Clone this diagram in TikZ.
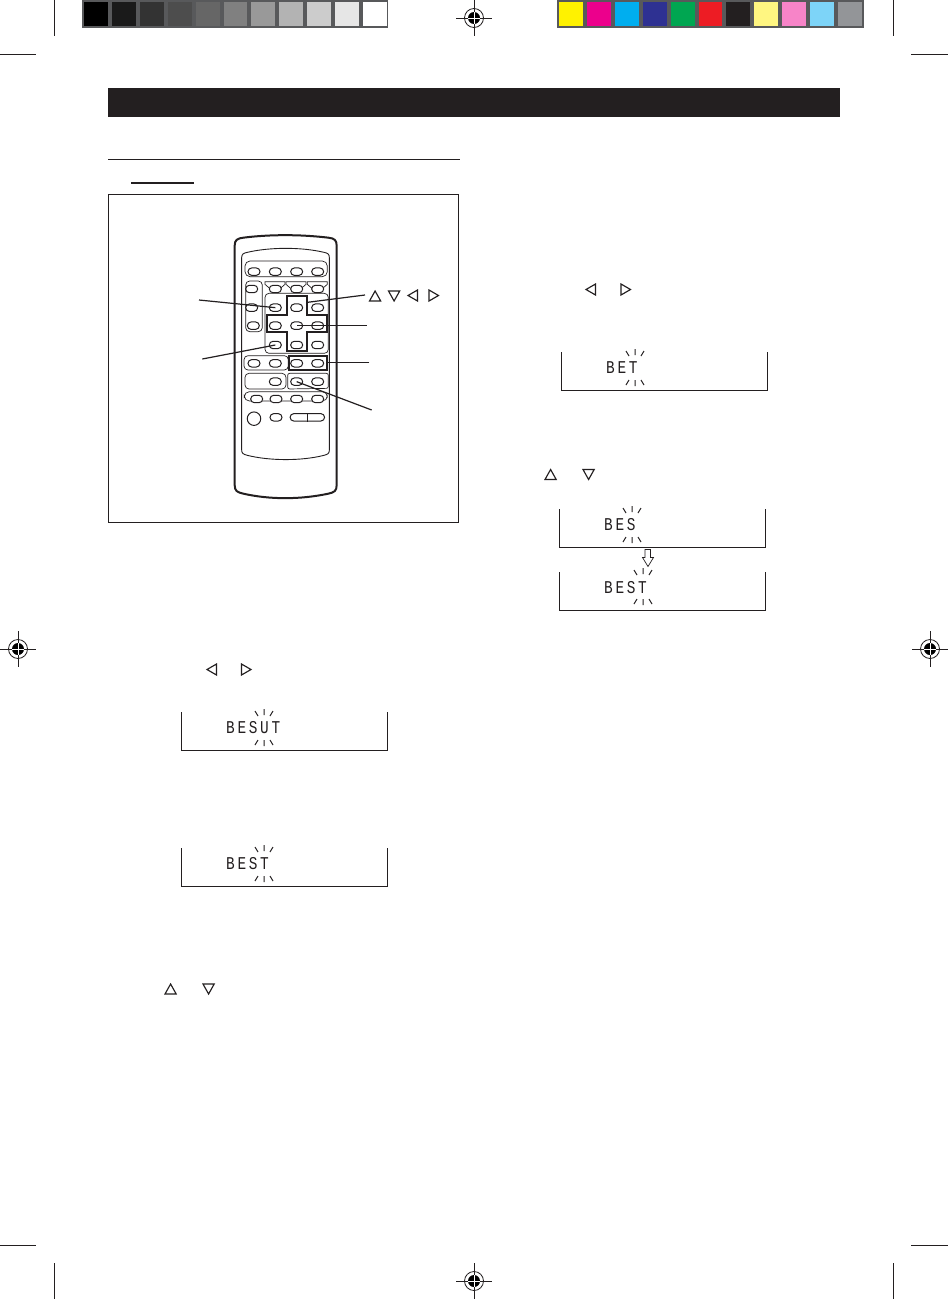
\documentclass[tikz,border=0pt]{standalone}
\usepackage{fontspec}
\usetikzlibrary{shapes.misc,shapes.geometric}
\newfontfamily\lcdfont{Liberation Mono}[FakeStretch=0.8,LetterSpace=15]
\definecolor{ink}{HTML}{231F20}
\definecolor{stripgrey}{HTML}{58595B}
\tikzset{
  ink line/.style={draw=ink,line width=1pt},
  thin part/.style={draw=ink,line width=0.7pt},
  crop/.style={draw=ink,line width=0.9pt},
  btn/.style={draw=ink,line width=1pt,fill=white,rounded rectangle,minimum width=12pt,minimum height=7.4pt,inner sep=0pt},
  thick frame/.style={draw=ink,line width=2pt},
  leader/.style={draw=ink,line width=1.2pt},
  lcd box/.style={draw=ink,line width=1pt},
  lcd/.style={inner sep=0pt,anchor=west,text=ink,font=\lcdfont\fontsize{18pt}{18pt}\selectfont},
  tri/.style={draw=ink,line width=1.15pt,line join=miter},
  rays/.style={draw=ink,line width=1pt},
  zoomed/.style={x=0.33333pt,y=-0.33333pt,shift={(190pt,-225pt)}}
}
\newcommand{\regmark}[2]{%
  \begin{scope}[shift={(#1,#2)}]
    \draw[crop,line width=0.7pt] (-18,0)--(18,0) (0,-18)--(0,18);
    \draw[ink line,line width=0.8pt] (0,0) circle[radius=9.5];
    \fill[black] (0,0) circle[radius=6];
    \draw[white,line width=0.7pt] (-6,0)--(6,0) (0,-6)--(0,6);
  \end{scope}}
\newcommand{\rayset}[2]{%
  \begin{scope}[shift={(#1,#2)}]
    \draw[rays] (-9,-1)--(-6,4) (0,-3)--(0,3) (9,-1)--(6,4)
      (-6,28)--(-9,33) (0,28)--(0,34) (6,28)--(9,33);
  \end{scope}}
\newcommand{\lcdpanel}[4]{% x, top
  \draw[lcd box] (#1,#2)--(#1,#2+38)--(#1+206,#2+38)--(#1+206,#2);}
\newcommand{\triU}[2]{\draw[tri] (#1,#2+10)--(#1+5.6,#2)--(#1+11.2,#2+10)--cycle;}
\newcommand{\triD}[2]{\draw[tri] (#1,#2)--(#1+5.6,#2+10)--(#1+11.2,#2)--cycle;}
\newcommand{\triL}[2]{\draw[tri] (#1+9.5,#2)--(#1,#2+5.5)--(#1+9.5,#2+11)--cycle;}
\newcommand{\triR}[2]{\draw[tri] (#1,#2)--(#1+9.5,#2+5.5)--(#1,#2+11)--cycle;}
\begin{document}
\begin{tikzpicture}[x=1pt,y=-1pt]
\useasboundingbox (0,0) rectangle (948,1299);
\fill[white] (0,0) rectangle (948,1299);
% colour strips
\fill[stripgrey] (82,0) rectangle (388,28);
\foreach \c [count=\i from 0] in {000000,1A1A1A,333333,4D4D4D,666666,808080,999999,B3B3B3,CCCCCC,E6E6E6,FFFFFF}
  {\definecolor{sw}{HTML}{\c}\fill[sw] ({84+27.9*\i},2) rectangle ({107.9+27.9*\i},26);}
\fill[stripgrey] (557,0) rectangle (864,28);
\foreach \c [count=\i from 0] in {FFF200,EC008C,00AEEF,2E3192,00A651,ED1C24,231F20,FFF681,F784C8,7DD4F8,939598}
  {\definecolor{sw}{HTML}{\c}\fill[sw] ({559+27.9*\i},2) rectangle ({582.9+27.9*\i},26);}
% crop marks
\draw[crop] (54.5,0)--(54.5,36) (0,54)--(36,54);
\draw[crop] (893.5,0)--(893.5,36) (911,54)--(948,54);
\draw[crop] (54.5,1263)--(54.5,1299) (0,1245)--(36,1245);
\draw[crop] (893.5,1263)--(893.5,1299) (911,1245)--(948,1245);
% registration marks
\regmark{474}{18}
\regmark{18}{649}
\regmark{930}{649}
\regmark{474}{1281}
% header
\fill[ink] (108,88) rectangle (840,117);
\draw[ink line] (108,159.3)--(460,159.3);
\draw[ink line,line width=1.3pt] (131,183)--(194,183);
\draw[ink line] (108.5,194.5) rectangle (458.5,522);
% remote control
\begin{scope}[zoomed]
  \draw[draw=ink,line width=2pt] (134,62) .. controls (134,45) and (142,40) .. (160,38)
     .. controls (240,28) and (330,28) .. (415,38) .. controls (433,40) and (440,45) .. (440,62)
     -- (440,780) .. controls (440,798) and (433,802) .. (415,806)
     .. controls (330,824) and (240,824) .. (160,806) .. controls (142,802) and (134,798) .. (134,780) -- cycle;
  \draw[thin part,line width=0.9pt] (155,98) .. controls (155,88) and (160,84) .. (172,82)
     .. controls (240,66) and (335,66) .. (402,82) .. controls (414,84) and (418,88) .. (418,98)
     -- (418,675) .. controls (418,685) and (414,688) .. (402,691)
     .. controls (335,708) and (240,708) .. (172,691) .. controls (160,688) and (155,685) .. (155,675) -- cycle;
  \draw[thin part,rounded corners=5pt] (165,108) rectangle (412,155);
  \draw[thin part,rounded corners=4pt] (167,168) rectangle (217,320);
  \draw[thin part,rounded corners=4pt] (225,205) rectangle (415,385);
  \draw[thin part,rounded corners=4pt] (162,392) rectangle (295,435);
  \draw[thin part,rounded corners=4pt] (165,445) rectangle (288,492);
  \draw[thin part,rounded corners=2pt] (293,492)--(293,445)--(415,445)--(415,490)--cycle;
  \draw[thin part,rounded corners=5pt] (163,500) rectangle (412,528);
  \foreach \x in {225,288,352}
    \draw[thin part] (\x+14,190)--(\x,178)--(\x,170)--(\x+60,170)--(\x+60,178)--(\x+46,190);
  % cross and frame
  \draw[thick frame] (290,212)--(350,212)--(350,270)--(410,270)--(410,322)--(350,322)--(350,378)--(290,378)--(290,322)--(230,322)--(230,270)--(290,270)--cycle;
  \draw[thick frame] (297,394) rectangle (410,435);
  % buttons
  \foreach \x/\n in {192/1,256/2,320/3,383/4} \node[btn] (ba\n) at (\x,140) {};
  \foreach \x/\n in {185/1,256/2,320/3,383/4} \node[btn] (bb\n) at (\x,192) {};
  \foreach \x/\n in {185/1,256/2,320/3,383/4} \node[btn] (bc\n) at (\x,248) {};
  \foreach \x/\n in {190/1,256/2,320/3,383/4} \node[btn] (bd\n) at (\x,302) {};
  \foreach \x/\n in {256/2,320/3,383/4} \node[btn] (be\n) at (\x,360) {};
  \foreach \x/\n in {192/1,256/2,320/3,383/4} \node[btn] (bf\n) at (\x,415) {};
  \foreach \x/\n in {256/2,320/3,383/4} \node[btn] (bg\n) at (\x,470) {};
  \foreach \x/\n in {200/1,258/2,320/3,383/4} \node[btn] (bh\n) at (\x,522) {};
  \node[btn] (bi2) at (258,577) {};
  \node[draw=ink,line width=1pt,circle,minimum size=13.5pt,inner sep=0pt,fill=white] (power) at (192,581) {};
  \node[btn,minimum width=34.5pt] (wide) at (352,577) {};
  \draw[thin part,line width=1pt] (wide.north)--(wide.south);
  % leaders
  \coordinate (l1) at (27,225);
  \coordinate (l2) at (37,402);
  \coordinate (l3) at (525,210);
  \coordinate (l4) at (530,302);
  \coordinate (l5) at (538,412);
  \coordinate (l6) at (545,555);
  \coordinate (cross top) at (352,232);
  \coordinate (frame edge) at (410,412);
  \draw[leader] (l1)--(bc2.center);
  \draw[leader] (l2)--(be2.center);
  \draw[leader] (l3)--(cross top);
  \draw[leader] (l4)--(bd3.center);
  \draw[leader] (l5)--(frame edge);
  \draw[leader] (l6)--(bg3.center);
\end{scope}
% remote's direction labels
\triU{369.5}{291}
\triD{388.5}{291}
\triL{408}{290}
\triR{429}{290}
% left column
\triL{207}{664}
\triR{241.5}{664}
\lcdpanel{181.5}{712}{}{}
\rayset{264}{712}
\node[lcd] (t1) at (226,727.5) {BESUT};
\lcdpanel{181.5}{848}{}{}
\rayset{264}{848}
\node[lcd] (t2) at (226,863.5) {BEST};
\triU{165}{984}
\triD{203}{984}
% right column
\triL{586}{284}
\triR{621}{284}
\lcdpanel{561.5}{352}{}{}
\rayset{635}{352}
\node[lcd] (t3) at (606,367.5) {BET};
\triU{545}{469.5}
\triD{583}{469.5}
\lcdpanel{559.5}{509}{}{}
\rayset{632}{509}
\node[lcd] (t4) at (604,524.5) {BES};
\lcdpanel{559.5}{572}{}{}
\rayset{643}{571}
\node[lcd] (t5) at (604,587.5) {BEST};
\draw[ink line,line width=0.7pt,fill=white] (645,549.5)--(650.5,549.5)--(650.5,557.5)--(653.5,557.5)--(648,566.5)--(642.5,557.5)--(645,557.5)--cycle;
\end{tikzpicture}
\end{document}
